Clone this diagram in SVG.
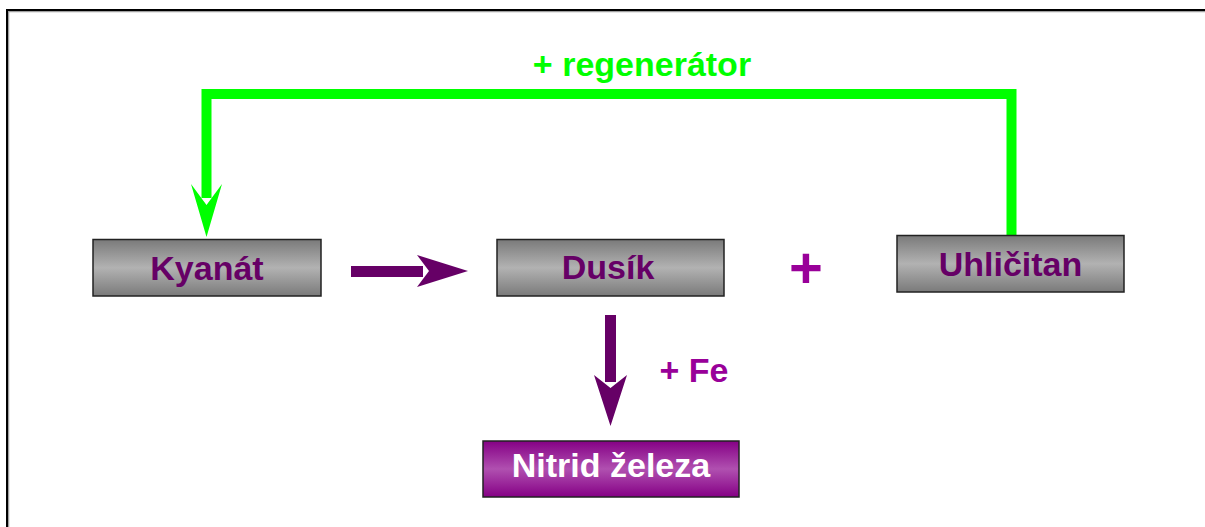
<svg xmlns="http://www.w3.org/2000/svg" width="1205" height="527" viewBox="0 0 1205 527">
  <defs>
    <linearGradient id="grayFill" x1="0" y1="0" x2="0" y2="1">
      <stop offset="0" stop-color="#7a7a7a"/>
      <stop offset="0.5" stop-color="#b2b2b2"/>
      <stop offset="1" stop-color="#7a7a7a"/>
    </linearGradient>
    <linearGradient id="purpleFill" x1="0" y1="0" x2="0" y2="1">
      <stop offset="0" stop-color="#850085"/>
      <stop offset="0.5" stop-color="#b050b0"/>
      <stop offset="1" stop-color="#850085"/>
    </linearGradient>
    <style>
      .box { stroke: #222; stroke-width: 1.5; }
      .lbl { font-family: "Liberation Sans", Arial, sans-serif; font-weight: bold; font-size: 34px; text-anchor: middle; }
      .dark { fill: #660066; }
      .plus { fill: #990099; }
      .green { fill: #00ff00; }
    </style>
  </defs>

  <rect width="1205" height="527" fill="#fff"/>

  <!-- page frame -->
  <path d="M8.5,527 V11.5 H1205" fill="none" stroke="#a0a0a0" stroke-width="1.5"/>
  <path d="M7,527 V10 H1205" fill="none" stroke="#000" stroke-width="2"/>

  <g id="connectors">
    <!-- regenerator loop from Uhličitan back to Kyanát -->
    <path d="M1011.5,235 V94 H206.5 V198" fill="none" stroke="#00ff00" stroke-width="10"/>
    <polygon points="191,184 206.5,205 222,184 206.5,237" fill="#00ff00"/>
    <text class="lbl green" x="642" y="76">+ regenerátor</text>

    <!-- Kyanát to Dusík -->
    <rect x="351" y="266" width="72" height="11" fill="#660066"/>
    <polygon points="417,255 468,271 417,287 429,271" fill="#660066"/>

    <!-- Dusík to Nitrid železa -->
    <rect x="605" y="315" width="11" height="67" fill="#660066"/>
    <polygon points="594,375 610.5,426 627,375 610.5,388" fill="#660066"/>
    <text class="lbl plus" x="694" y="382">+ Fe</text>

    <!-- plus between Dusík and Uhličitan -->
    <text class="lbl plus" x="806" y="288" style="font-size:58px">+</text>
  </g>

  <g id="kyanat">
    <rect class="box" x="93" y="239.5" width="228" height="56.5" fill="url(#grayFill)"/>
    <text class="lbl dark" x="207" y="280">Kyanát</text>
  </g>

  <g id="dusik">
    <rect class="box" x="497" y="239.5" width="227" height="56.5" fill="url(#grayFill)"/>
    <text class="lbl dark" x="608" y="279">Dusík</text>
  </g>

  <g id="uhlicitan">
    <rect class="box" x="897" y="235.5" width="227" height="56.5" fill="url(#grayFill)"/>
    <text class="lbl dark" x="1010.5" y="276">Uhličitan</text>
  </g>

  <g id="nitrid-zeleza">
    <rect class="box" x="483" y="441" width="256" height="56" fill="url(#purpleFill)"/>
    <text class="lbl" x="611" y="477" fill="#fff">Nitrid železa</text>
  </g>
</svg>
